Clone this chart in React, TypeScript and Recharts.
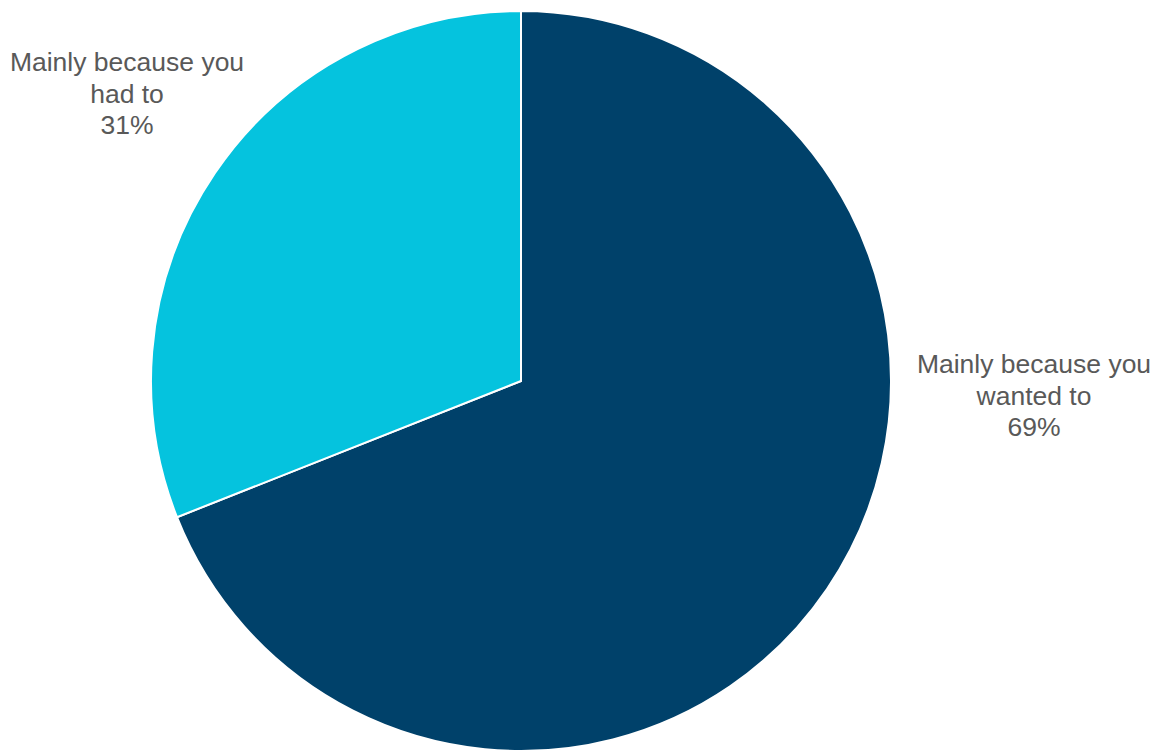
import { PieChart, Pie, Cell } from "recharts";

const categories = ["Mainly because you wanted to", "Mainly because you had to"];
const shares = [69, 31];
const labelLines = [
    ["Mainly because you", "wanted to"],
    ["Mainly because you", "had to"],
];
const colors = ["#00416A", "#05C3DE"];

const data = categories.map((name, i) => ({ name, value: shares[i] }));

// Excel-style "best fit" spots, relative to the pie centre and radius
const renderLabel = ({ cx, cy, outerRadius, index, value }: any) => {
    const x = index === 0 ? cx + outerRadius + 143 : cx - outerRadius - 24;
    const y = index === 0 ? cy - 8 : cy - 310;
    const lines = [...labelLines[index], `${value}%`];
    return (
        <text
            x={x}
            y={y}
            textAnchor="middle"
            fill="#595959"
            fontSize={26.5}
            fontFamily="'Liberation Sans', Arial, sans-serif"
        >
            {lines.map((l, i) => (
                <tspan key={i} x={x} dy={i === 0 ? 0 : 31.5}>
                    {l}
                </tspan>
            ))}
        </text>
    );
};

export default function App() {
    return (
        <div style={{ position: "absolute", left: 0, top: 0, width: 1157, height: 751, background: "#fff" }}>
            <PieChart width={1157} height={751} margin={{ top: 0, right: 0, bottom: 0, left: 0 }}>
                <Pie
                    data={data}
                    dataKey="value"
                    nameKey="name"
                    cx={521}
                    cy={381}
                    outerRadius={370}
                    startAngle={90}
                    endAngle={-270}
                    stroke="#ffffff"
                    strokeWidth={2}
                    label={renderLabel}
                    labelLine={false}
                    isAnimationActive={false}
                >
                    {data.map((d, i) => (
                        <Cell key={d.name} fill={colors[i]} />
                    ))}
                </Pie>
            </PieChart>
        </div>
    );
}
